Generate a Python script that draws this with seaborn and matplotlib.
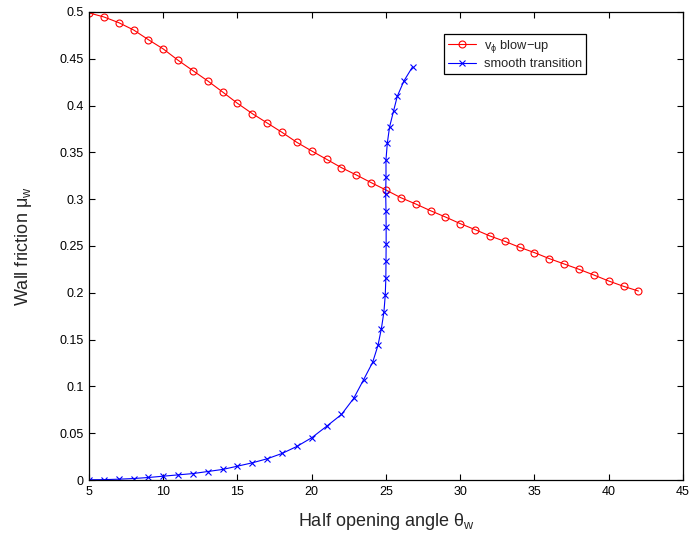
import matplotlib
matplotlib.use("Agg")
import matplotlib.pyplot as plt
import seaborn as sns
import pandas as pd

# Critical wall friction versus half opening angle
blowup_angle = list(range(5, 43))
blowup_mu = [0.4990, 0.4947, 0.4886, 0.4808, 0.4704, 0.4605, 0.4484, 0.4373,
             0.4263, 0.4145, 0.4024, 0.3914, 0.3814, 0.3714, 0.3607, 0.3515,
             0.3426, 0.3337, 0.3259, 0.3177, 0.3098, 0.3016, 0.2949, 0.2877,
             0.2810, 0.2739, 0.2675, 0.2607, 0.2550, 0.2486, 0.2429, 0.2365,
             0.2308, 0.2251, 0.2190, 0.2126, 0.2069, 0.2019]

smooth_angle = [5, 6, 7, 8, 9, 10, 11, 12, 13, 14, 15, 16, 17, 18, 19, 20, 21, 22,
                22.82, 23.49, 24.10, 24.46, 24.69, 24.86, 24.95, 24.99, 25.00,
                25.01, 25.01, 25.00, 24.98, 25.00, 25.00, 25.09, 25.24, 25.51,
                25.76, 26.21, 26.79]
smooth_mu = [0.0003, 0.0004, 0.0009, 0.0016, 0.0027, 0.0041, 0.0055, 0.0069,
             0.0091, 0.0113, 0.0148, 0.0184, 0.0227, 0.0284, 0.0359, 0.0452,
             0.0574, 0.0700, 0.0871, 0.1071, 0.1257, 0.1438, 0.1618, 0.1795,
             0.1975, 0.2158, 0.2340, 0.2521, 0.2700, 0.2878, 0.3057, 0.3242,
             0.3424, 0.3600, 0.3771, 0.3943, 0.4099, 0.4264, 0.4414]

blowup_label = "v$_{\\phi}$ blow\u2212up"
smooth_label = "smooth transition"

x_ticks = [5, 10, 15, 20, 25, 30, 35, 40, 45]
y_ticks = [0, 0.05, 0.1, 0.15, 0.2, 0.25, 0.3, 0.35, 0.4, 0.45, 0.5]
y_tick_labels = ["0", "0.05", "0.1", "0.15", "0.2", "0.25", "0.3", "0.35",
                 "0.4", "0.45", "0.5"]

sns.set_style("ticks")
plt.rcParams["font.family"] = ["Liberation Sans", "DejaVu Sans"]
plt.rcParams["mathtext.fontset"] = "custom"
plt.rcParams["mathtext.rm"] = "Liberation Sans"
plt.rcParams["mathtext.it"] = "Liberation Sans"

df_blowup = pd.DataFrame({"angle": blowup_angle, "mu": blowup_mu})
df_smooth = pd.DataFrame({"angle": smooth_angle, "mu": smooth_mu})

fig = plt.figure(figsize=(6.91, 5.37), dpi=100)
ax = fig.add_axes([0.1288, 0.1061, 0.8596, 0.8716])

# points are drawn in order, one per row (no aggregation of repeated angles)
sns.lineplot(data=df_blowup, x="angle", y="mu", sort=False, estimator=None,
             ax=ax, color="red", linewidth=0.8, marker="o", markersize=5,
             markerfacecolor="none", markeredgecolor="red",
             markeredgewidth=0.8, label=blowup_label)
sns.lineplot(data=df_smooth, x="angle", y="mu", sort=False, estimator=None,
             ax=ax, color="blue", linewidth=0.8, marker="x", markersize=4,
             markeredgecolor="blue", markeredgewidth=0.8, label=smooth_label)

ax.set_xlim(5, 45)
ax.set_ylim(0, 0.5)
ax.set_xticks(x_ticks)
ax.set_yticks(y_ticks)
ax.set_yticklabels(y_tick_labels)
ax.tick_params(direction="in", length=4, width=0.8, top=True, right=True,
               labelsize=9, colors="black", pad=4)
for s in ax.spines.values():
    s.set_visible(True)
    s.set_color("black")
    s.set_linewidth(0.9)

ax.set_xlabel("Half opening angle \u03b8$_{w}$", fontsize=13, labelpad=10)
ax.set_ylabel("Wall friction \u03bc$_{w}$", fontsize=13, labelpad=18)

leg = ax.legend(loc="upper left", bbox_to_anchor=(0.598, 0.953), fontsize=9.3,
                frameon=True, fancybox=False, framealpha=1, edgecolor="black",
                handlelength=2.2, borderpad=0.3, labelspacing=0.25,
                handletextpad=0.6, borderaxespad=0)
leg.get_frame().set_linewidth(0.9)

fig.savefig("out.png", dpi=100)
